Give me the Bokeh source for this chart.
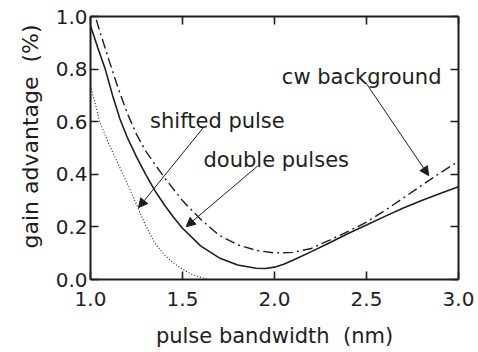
from bokeh.plotting import figure
from bokeh.models import (Label, Arrow, NormalHead, LinearAxis, FixedTicker,
                          PrintfTickFormatter, Range1d, Title)
from bokeh.embed import file_html
from bokeh.resources import INLINE

# ---- data ----
x_double = [1.0, 1.04, 1.08, 1.12, 1.16, 1.2, 1.25, 1.3, 1.35, 1.4, 1.45, 1.5,
            1.6, 1.7, 1.8, 1.9, 1.95, 2.0, 2.05, 2.1, 2.2, 2.3, 2.4, 2.5, 2.6,
            2.7, 2.8, 2.9, 3.0]
y_double = [0.965, 0.88, 0.80, 0.70, 0.61, 0.54, 0.466, 0.40, 0.338, 0.285,
            0.238, 0.195, 0.127, 0.082, 0.055, 0.043, 0.042, 0.047, 0.058,
            0.073, 0.106, 0.14, 0.175, 0.207, 0.24, 0.272, 0.30, 0.327, 0.353]

x_cw = [1.0, 1.05, 1.1, 1.15, 1.2, 1.25, 1.3, 1.4, 1.5, 1.6, 1.7, 1.8, 1.9,
        2.0, 2.1, 2.2, 2.3, 2.4, 2.5, 2.6, 2.7, 2.8, 2.9, 3.0]
y_cw = [1.06, 0.945, 0.835, 0.728, 0.632, 0.552, 0.488, 0.389, 0.30, 0.228,
        0.168, 0.132, 0.111, 0.101, 0.103, 0.118, 0.150, 0.183, 0.218, 0.262,
        0.31, 0.358, 0.405, 0.45]

x_shift = [1.0, 1.025, 1.05, 1.1, 1.15, 1.2, 1.25, 1.3, 1.35, 1.4, 1.45, 1.5,
           1.55, 1.6, 1.64, 3.0]
y_shift = [0.737, 0.67, 0.60, 0.515, 0.44, 0.365, 0.285, 0.205, 0.138, 0.095,
           0.063, 0.039, 0.02, 0.008, 0.0, 0.0]

x_ticks = [1.0, 1.5, 2.0, 2.5, 3.0]
y_ticks = [0.0, 0.2, 0.4, 0.6, 0.8, 1.0]

ann_texts = ["shifted pulse", "double pulses", "cw background"]
ann_x = [1.324, 1.614, 2.04]
ann_y = [0.604, 0.4545, 0.771]
arrow_x0 = [1.614, 1.909, 2.499]
arrow_y0 = [0.578, 0.432, 0.7455]
arrow_x1 = [1.261, 1.520, 2.838]
arrow_y1 = [0.273, 0.201, 0.395]

x_title = "pulse bandwidth\u00a0 (nm)"
y_title = "gain advantage\u00a0 (%)"

FONT = "DejaVu Sans"
INK = "#1e1e1e"

p = figure(width=476, height=352, x_range=Range1d(1.0, 3.0),
           y_range=Range1d(0.0, 1.0), output_backend="svg",
           toolbar_location=None, min_border_left=90, min_border_right=18,
           min_border_top=16, min_border_bottom=73)
p.xgrid.visible = False
p.ygrid.visible = False
p.outline_line_color = None
p.background_fill_color = "white"
p.border_fill_color = "white"

# curves
p.line(x_shift, y_shift, line_color=INK, line_width=1.1, line_dash="1 2")
p.line(x_double, y_double, line_color=INK, line_width=1.6)
p.line(x_cw, y_cw, line_color=INK, line_width=1.4, line_dash="10 4 2 4")


def style_axis(ax, ticks, show_labels):
    ax.ticker = FixedTicker(ticks=ticks)
    ax.minor_tick_line_color = None
    ax.major_tick_in = 8
    ax.major_tick_out = 0
    ax.major_tick_line_width = 1.6
    ax.major_tick_line_color = INK
    ax.axis_line_width = 2
    ax.axis_line_color = INK
    ax.formatter = PrintfTickFormatter(format="%.1f")
    if show_labels:
        ax.major_label_text_font = FONT
        ax.major_label_text_font_size = "20px"
        ax.major_label_text_color = INK
    else:
        ax.major_label_text_font_size = "1px"
        ax.major_label_text_color = None
        ax.major_label_standoff = 0


style_axis(p.xaxis[0], x_ticks, True)
style_axis(p.yaxis[0], y_ticks, True)
p.xaxis[0].major_label_standoff = 12
p.yaxis[0].major_label_standoff = 3

# x title as the axis label
xa = p.xaxis[0]
xa.axis_label = x_title
xa.axis_label_standoff = 15
xa.axis_label_text_font = FONT
xa.axis_label_text_font_size = "21px"
xa.axis_label_text_font_style = "normal"
xa.axis_label_text_color = INK

top = LinearAxis()
style_axis(top, x_ticks, False)
p.add_layout(top, "above")
right = LinearAxis()
style_axis(right, y_ticks, False)
p.add_layout(right, "right")

# annotations
for t, x, y in zip(ann_texts, ann_x, ann_y):
    p.add_layout(Label(x=x, y=y, text=t, text_font=FONT,
                       text_font_size="21px", text_color=INK,
                       text_align="left", text_baseline="alphabetic"))
for x0, y0, x1, y1 in zip(arrow_x0, arrow_y0, arrow_x1, arrow_y1):
    p.add_layout(Arrow(x_start=x0, y_start=y0, x_end=x1, y_end=y1,
                       line_width=1, line_color=INK,
                       end=NormalHead(size=9, fill_color=INK,
                                      line_color=INK, line_width=1)))

# y title
p.add_layout(Title(text=y_title, align="left", offset=31, standoff=20,
                   text_font=FONT, text_font_size="22px",
                   text_font_style="normal", text_color=INK), "left")

open("out.html", "w").write(file_html(p, INLINE))
